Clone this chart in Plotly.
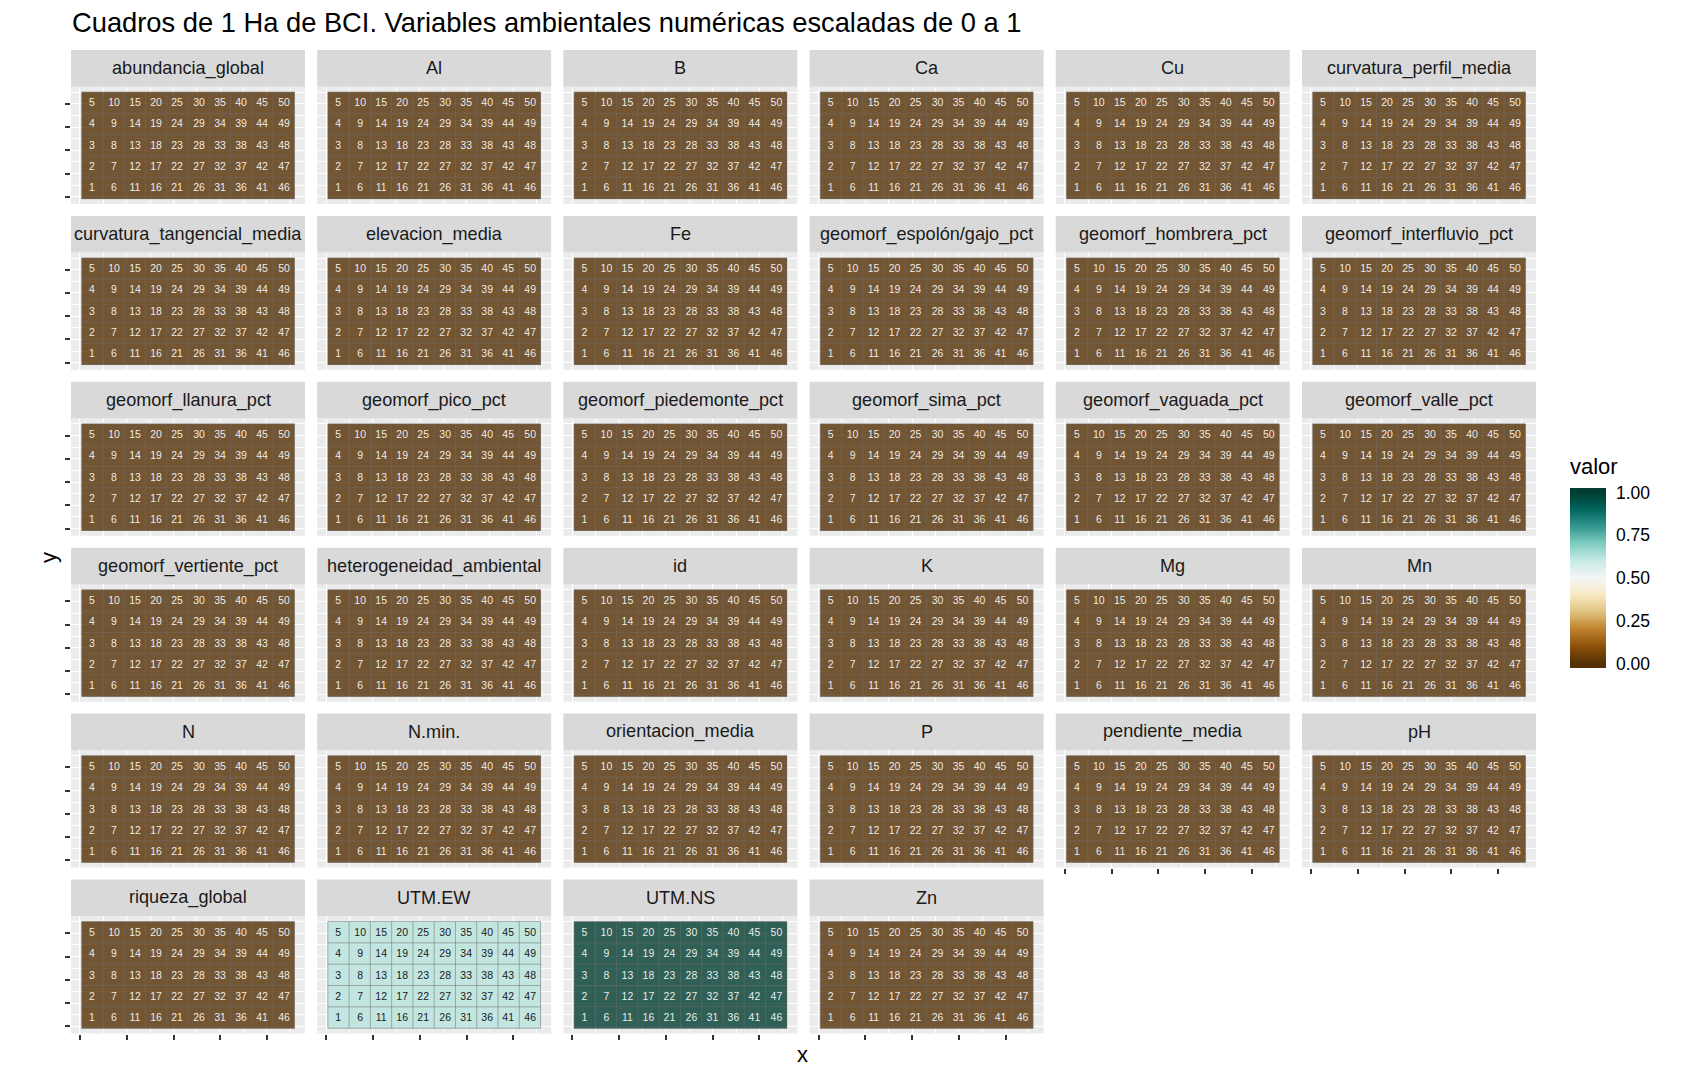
import plotly.graph_objects as go
from plotly.colors import diverging

# ---------------- data ----------------
variables = [
    "abundancia_global", "Al", "B", "Ca", "Cu", "curvatura_perfil_media",
    "curvatura_tangencial_media", "elevacion_media", "Fe", "geomorf_espolón/gajo_pct",
    "geomorf_hombrera_pct", "geomorf_interfluvio_pct",
    "geomorf_llanura_pct", "geomorf_pico_pct", "geomorf_piedemonte_pct", "geomorf_sima_pct",
    "geomorf_vaguada_pct", "geomorf_valle_pct",
    "geomorf_vertiente_pct", "heterogeneidad_ambiental", "id", "K", "Mg", "Mn",
    "N", "N.min.", "orientacion_media", "P", "pendiente_media", "pH",
    "riqueza_global", "UTM.EW", "UTM.NS", "Zn",
]
valores = [
    0, 0, 0, 0, 0, 0,
    0, 0, 0, 0, 0, 0,
    0, 0, 0, 0, 0, 0,
    0, 0, 0, 0, 0, 0,
    0, 0, 0, 0, 0, 0,
    0, 0.62, 1.0, 0,
]
columnas = list(range(1, 11))   # 10 columns of 1-ha plots
filas = list(range(1, 6))       # 5 rows
x_ticks = [0.42, 2.62, 4.82, 7.02, 9.21]
y_ticks = [0.59, 1.68, 2.77, 3.86, 4.95]
barra_ticks = [0, 0.25, 0.5, 0.75, 1]
barra_labels = ["0.00", "0.25", "0.50", "0.75", "1.00"]

# ---------------- layout geometry (pixels) ----------------
W, H = 1700, 1080
NCOL = 6
PX0, PPITCH, PW = 71.0, 246.2, 234.0
SY0, SPITCH, SH, PH = 50.0, 165.9, 36.7, 117.3
FONT = "Liberation Sans, Arial, sans-serif"

ids = [[(c - 1) * 5 + r for c in columnas] for r in filas]

def minor_of(ticks, lo, hi):
    step = ticks[1] - ticks[0]
    m = [ticks[0] - step / 2] + [(a + b) / 2 for a, b in zip(ticks[:-1], ticks[1:])] + [ticks[-1] + step / 2]
    return [v for v in m if lo <= v <= hi]

xr = [min(columnas) - 0.5 - 0.05 * len(columnas), max(columnas) + 0.5 + 0.05 * len(columnas)]
yr = [min(filas) - 0.5 - 0.05 * len(filas), max(filas) + 0.5 + 0.05 * len(filas)]

# colour scale: BrBG with flat ends (bar extends slightly beyond 0 and 1, as in ggplot)
EXT = 0.026
cmin, cmax = 0 - EXT, 1 + EXT
base = diverging.BrBG
nb = len(base)
scale = [[0.0, base[0]]]
for i, c in enumerate(base):
    v = i / (nb - 1)
    scale.append([(v - cmin) / (cmax - cmin), c])
scale.append([1.0, base[-1]])

fig = go.Figure()
shapes = []
annotations = []
n = len(variables)

# border segments of the tiles
bx, by = [], []
for c in range(len(columnas) + 1):
    xv = columnas[0] - 0.5 + c
    bx += [xv, xv, None]
    by += [filas[0] - 0.5, filas[-1] + 0.5, None]
for r in range(len(filas) + 1):
    yv = filas[0] - 0.5 + r
    bx += [columnas[0] - 0.5, columnas[-1] + 0.5, None]
    by += [yv, yv, None]

for k, (var, val) in enumerate(zip(variables, valores)):
    row, col = divmod(k, NCOL)
    ax = "" if k == 0 else str(k + 1)
    x0 = PX0 + col * PPITCH
    x1 = x0 + PW
    st = SY0 + row * SPITCH
    sb = st + SH
    pb = st + SH + PH
    txtcol = "rgba(255,255,255,0.9)" if (val < 0.3 or val > 0.75) else "#1a1a1a"
    fig.add_trace(go.Heatmap(
        z=[[val] * len(columnas) for _ in filas], x=columnas, y=filas,
        coloraxis="coloraxis", opacity=0.8,
        text=ids, texttemplate="%{text}",
        textfont=dict(size=10.5, color=txtcol, family=FONT),
        hoverinfo="skip", xaxis="x" + ax, yaxis="y" + ax,
    ))
    fig.add_trace(go.Scatter(
        x=bx, y=by, mode="lines", line=dict(color="rgba(110,110,110,0.75)", width=0.7),
        hoverinfo="skip", showlegend=False, xaxis="x" + ax, yaxis="y" + ax,
    ))
    bottom = (k + NCOL) >= n
    left = col == 0
    fig.layout["xaxis" + ax] = dict(
        domain=[x0 / W, x1 / W], anchor="y" + ax, range=xr,
        tickvals=x_ticks, showticklabels=False,
        ticks="outside" if bottom else "", ticklen=5, tickwidth=1.5, tickcolor="#333333",
        showgrid=True, gridcolor="white", gridwidth=1.2, zeroline=False, showline=False,
        minor=dict(tickvals=minor_of(x_ticks, *xr), showgrid=True, gridcolor="white", gridwidth=0.6, ticks=""),
        fixedrange=True,
    )
    fig.layout["yaxis" + ax] = dict(
        domain=[1 - pb / H, 1 - sb / H], anchor="x" + ax, range=yr,
        tickvals=y_ticks, showticklabels=False,
        ticks="outside" if left else "", ticklen=5, tickwidth=1.5, tickcolor="#333333",
        showgrid=True, gridcolor="white", gridwidth=1.2, zeroline=False, showline=False,
        minor=dict(tickvals=minor_of(y_ticks, *yr), showgrid=True, gridcolor="white", gridwidth=0.6, ticks=""),
        fixedrange=True,
    )
    shapes.append(dict(type="rect", xref="paper", yref="paper",
                       x0=x0 / W, x1=x1 / W, y0=1 - sb / H, y1=1 - st / H,
                       fillcolor="#D9D9D9", line=dict(width=0), layer="below"))
    annotations.append(dict(text=var, xref="paper", yref="paper",
                            x=(x0 + x1) / 2 / W, y=1 - (st + SH / 2) / H,
                            xanchor="center", yanchor="middle", showarrow=False,
                            font=dict(size=18.1, color="#1A1A1A", family=FONT)))

# colour bar geometry
CB_L, CB_T, CB_B, CB_W = 1569.5, 488.0, 668.0, 36.0
for t in barra_ticks:
    yp = 1 - (CB_B - (t - cmin) / (cmax - cmin) * (CB_B - CB_T)) / H
    for xa, xb in ((CB_L, CB_L + 7), (CB_L + CB_W - 7, CB_L + CB_W)):
        shapes.append(dict(type="line", xref="paper", yref="paper",
                           x0=xa / W, x1=xb / W, y0=yp, y1=yp,
                           line=dict(color="white", width=1.2), layer="above"))

annotations += [
    dict(text="Cuadros de 1 Ha de BCI. Variables ambientales numéricas escaladas de 0 a 1",
         xref="paper", yref="paper", x=69.5 / W, y=1 - 22 / H, xanchor="left", yanchor="middle",
         showarrow=False, font=dict(size=27.3, color="black", family=FONT)),
    dict(text="x", xref="paper", yref="paper", x=802 / W, y=1 - 1054 / H,
         xanchor="center", yanchor="middle", showarrow=False,
         font=dict(size=22, color="black", family=FONT)),
    dict(text="y", xref="paper", yref="paper", x=48 / W, y=1 - 558 / H, textangle=-90,
         xanchor="center", yanchor="middle", showarrow=False,
         font=dict(size=22, color="black", family=FONT)),
    dict(text="valor", xref="paper", yref="paper", x=1568 / W, y=1 - 466 / H,
         xanchor="left", yanchor="middle", showarrow=False,
         font=dict(size=22, color="black", family=FONT)),
]

fig.update_layout(
    width=W, height=H, margin=dict(l=0, r=0, t=0, b=0),
    paper_bgcolor="white", plot_bgcolor="#EBEBEB",
    showlegend=False, shapes=shapes, annotations=annotations,
    font=dict(family=FONT),
    coloraxis=dict(
        colorscale=scale, cmin=cmin, cmax=cmax,
        colorbar=dict(
            x=CB_L / W, xanchor="left", xpad=0, ypad=0,
            y=1 - (CB_T + CB_B) / 2 / H, yanchor="middle",
            len=CB_B - CB_T, lenmode="pixels", thickness=CB_W, thicknessmode="pixels",
            outlinewidth=0, tickvals=barra_ticks, ticktext=barra_labels,
            ticks="outside", ticklen=7, tickcolor="rgba(0,0,0,0)", tickwidth=1,
            tickfont=dict(size=17.5, color="black", family=FONT),
        ),
    ),
)

fig.write_html("out.html")
